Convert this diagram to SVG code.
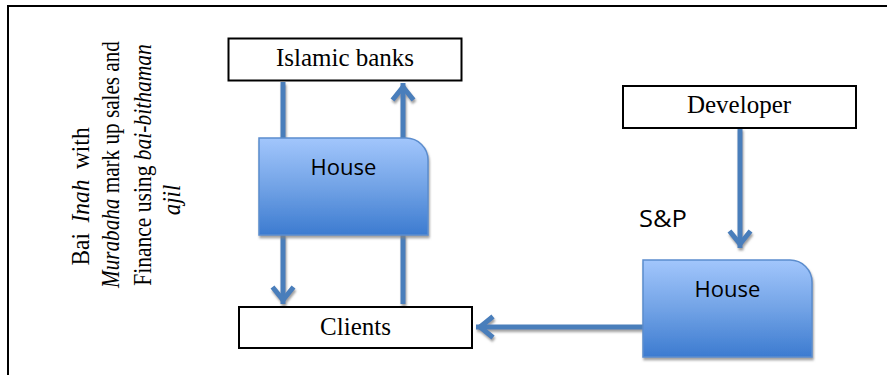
<svg xmlns="http://www.w3.org/2000/svg" width="888" height="375" viewBox="0 0 888 375">
  <defs>
    <linearGradient id="houseGrad" x1="0" y1="0" x2="0" y2="1">
      <stop offset="0" stop-color="#a2c6fc"/>
      <stop offset="0.5" stop-color="#72a3e6"/>
      <stop offset="1" stop-color="#3c7bd0"/>
    </linearGradient>
    <filter id="shadow" x="-10%" y="-10%" width="130%" height="130%">
      <feDropShadow dx="1" dy="2.5" stdDeviation="0.8" flood-color="#808080" flood-opacity="0.75"/>
    </filter>
    <marker id="arrow" markerUnits="userSpaceOnUse" viewBox="-30 -15 34 30" refX="0" refY="0" markerWidth="34" markerHeight="30" orient="auto">
      <path d="M-17,-10.5 L-4,0 L-17,10.5" fill="none" stroke="#4a7ebb" stroke-width="5" stroke-linejoin="miter"/>
    </marker>
    <style>
      .frame { stroke: #000; stroke-width: 2; fill: none; }
      .box { fill: #fff; stroke: #000; stroke-width: 2; }
      .boxText { font-family: "Liberation Serif", "Times New Roman", serif; font-size: 25px; fill: #000; text-anchor: middle; }
      .house { fill: url(#houseGrad); stroke: #5b8dce; stroke-width: 1.5; }
      .houseText { font-family: "Open Sans", "Noto Sans", sans-serif; font-size: 22px; fill: #000; text-anchor: middle; }
      .conn { stroke: #4a7ebb; stroke-width: 5; fill: none; }
      .side { font-family: "Liberation Serif", "Times New Roman", serif; font-size: 25.5px; fill: #000; text-anchor: middle; }
      .label { font-family: "Open Sans", "Noto Sans", sans-serif; font-size: 23px; fill: #000; }
    </style>
  </defs>

  <!-- frame -->
  <path class="frame" d="M8,375 V6 H887"/>

  <!-- rotated side text -->
  <g id="side-text">
    <text class="side" transform="translate(89,196.5) rotate(-90) scale(0.92,1)" word-spacing="5">Bai <tspan font-style="italic">Inah</tspan> with</text>
    <text class="side" transform="translate(119,164.5) rotate(-90) scale(0.83,1)"><tspan font-style="italic">Murabaha</tspan> mark up sales and</text>
    <text class="side" transform="translate(151,165) rotate(-90) scale(0.845,1)">Finance using <tspan font-style="italic">bai-bithaman</tspan></text>
    <text class="side" transform="translate(180,200) rotate(-90) scale(0.9,1)"><tspan font-style="italic">ajil</tspan></text>
  </g>

  <!-- connectors -->
  <g id="connectors" filter="url(#shadow)">
    <path class="conn" d="M283,82 V139"/>
    <path class="conn" d="M283,234 V304" marker-end="url(#arrow)"/>
    <path class="conn" d="M403,304 V234"/>
    <path class="conn" d="M403,139 V83" marker-end="url(#arrow)"/>
    <path class="conn" d="M740,128 V248" marker-end="url(#arrow)"/>
    <path class="conn" d="M644,327 H476" marker-end="url(#arrow)"/>
  </g>

  <!-- nodes -->
  <g id="islamic-banks">
    <rect class="box" x="228.5" y="38.5" width="233" height="42"/>
    <text class="boxText" x="345" y="66">Islamic banks</text>
  </g>

  <g id="house-1">
    <path class="house" filter="url(#shadow)" d="M259,138 H406 A22,22 0 0 1 428,160 V235 H259 Z"/>
    <text class="houseText" x="343.5" y="175">House</text>
  </g>

  <g id="clients">
    <rect class="box" x="239" y="307" width="233" height="41"/>
    <text class="boxText" x="355.5" y="335">Clients</text>
  </g>

  <g id="developer">
    <rect class="box" x="623" y="86" width="233" height="42"/>
    <text class="boxText" x="739" y="113">Developer</text>
  </g>

  <g id="house-2">
    <path class="house" filter="url(#shadow)" d="M643,260 H790 A22,22 0 0 1 812,282 V357 H643 Z"/>
    <text class="houseText" x="727.5" y="297">House</text>
  </g>

  <g id="sp-label">
    <text class="label" x="639" y="227" textLength="48" lengthAdjust="spacingAndGlyphs">S&amp;P</text>
  </g>
</svg>
